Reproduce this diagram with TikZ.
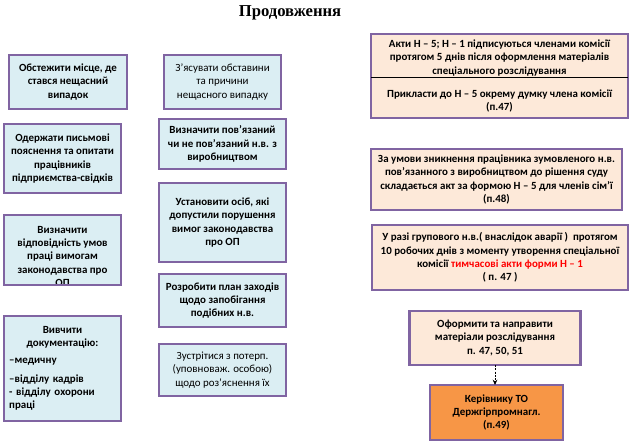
\documentclass[tikz,border=0pt]{standalone}
\usepackage{fontspec}
\setmainfont{Carlito}
\newfontfamily\titlefont{Liberation Serif}
\usetikzlibrary{arrows.meta}
\tikzset{every picture/.style={line width=0.75pt}}

\begin{document}
\begin{tikzpicture}[x=0.75pt,y=0.75pt,yscale=-1,xscale=1,
  txt/.style={inner sep=0pt,align=center,font=\fontsize{8.2}{9.9}\selectfont\bfseries},
  plain/.style={font=\fontsize{8.2}{9.9}\selectfont},
  box/.style={txt,draw={rgb, 255:red, 128; green, 100; blue, 162},line width=2pt,outer sep=0pt},
  bluebox/.style={box,fill={rgb, 255:red, 219; green, 238; blue, 243}},
  peachbox/.style={box,fill={rgb, 255:red, 253; green, 233; blue, 217}},
  orangebox/.style={box,fill={rgb, 255:red, 247; green, 150; blue, 70}}
]
\useasboundingbox (0,0) rectangle (631,443);

% Text Node
\draw (290,13) node (title) [inner sep=0pt,font={\titlefont\fontsize{12.5}{14}\selectfont\bfseries}] {Продовження};

%Shape: Rectangle
\node (obstezhyty) at (68,82) [bluebox,minimum width=88.5pt,minimum height=40.5pt] {Обстежити місце, де\\стався нещасний\\випадок};
%Shape: Rectangle
\node (odergaty) at (62.5,158.5) [bluebox,minimum width=87.75pt,minimum height=51.75pt] {Одержати письмові\\пояснення та опитати\\працівників\\підприємства-свідків};
%Shape: Rectangle
\node (vidpovidnist) at (62.5,250) [bluebox,minimum width=87.75pt,minimum height=52.5pt] {};
\begin{scope}
\clip (vidpovidnist.south west) rectangle (vidpovidnist.north east);
% Text Node
\node (vidpovidnisttext) at (62.5,226) [txt,anchor=north] {Визначити\\відповідність умов\\праці вимогам\\законодавства про\\ОП};
\end{scope}
\draw [draw={rgb, 255:red, 128; green, 100; blue, 162},line width=2pt] (vidpovidnist.south west) rectangle (vidpovidnist.north east);
%Shape: Rectangle
\node (vyvchyty) at (62.5,368.5) [bluebox,minimum width=87.75pt,minimum height=78.75pt,text width=80pt,align=left] {\centering Вивчити\\документацію:\par\vspace{3pt}\raggedright –медичну\\[4pt]–відділу кадрів\\- відділу охорони\\праці\par};

%Shape: Rectangle
\node (zyasuvaty) at (222.5,82) [bluebox,plain,minimum width=87.75pt,minimum height=40.5pt] {З’ясувати обставини\\та причини\\нещасного випадку};
%Shape: Rectangle
\node (povyazanyi) at (222.5,144) [bluebox,minimum width=95.25pt,minimum height=37.5pt] {Визначити пов’язаний\\чи не пов’язаний н.в. з\\виробництвом};
%Shape: Rectangle
\node (osoby) at (222.5,222.5) [bluebox,minimum width=95.25pt,minimum height=59.25pt] {Установити осіб, які\\допустили порушення\\вимог законодавства\\про ОП};
%Shape: Rectangle
\node (plan) at (222.5,300.5) [bluebox,minimum width=95.25pt,minimum height=39.75pt] {Розробити план заходів\\щодо запобігання\\подібних н.в.};
%Shape: Rectangle
\node (zustritysia) at (222.5,370) [bluebox,plain,minimum width=95.25pt,minimum height=39pt] {Зустрітися з потерп.\\(уповноваж. особою)\\щодо роз’яснення їх};

%Shape: Rectangle
\node (akty) at (499.5,76) [peachbox,minimum width=192.75pt,minimum height=63pt] {};
\coordinate (split) at (0,77);
%Straight Lines
\draw [black,line width=0.5pt] (akty.west |- split) -- (akty.east |- split);
% Text Node
\node (aktytext) at (499.5,58) [txt] {Акти Н – 5; Н – 1 підписуються членами комісії\\протягом 5 днів після оформлення матеріалів\\спеціального розслідування};
% Text Node
\node (dumka) at (499.5,101) [txt] {Прикласти до Н – 5 окрему думку члена комісії\\(п.47)};
%Shape: Rectangle
\node (znyknennia) at (496.5,179.5) [peachbox,minimum width=188.25pt,minimum height=45.75pt] {За умови зникнення працівника зумовленого н.в.\\пов’язанного з виробництвом до рішення суду\\складається акт за формою Н – 5 для членів сім’ї\\(п.48)};
%Shape: Rectangle
\node (grupovyi) at (500,257.5) [peachbox,minimum width=192pt,minimum height=48.75pt] {У разі групового н.в.( внаслідок аварії )\ \ протягом\\10 робочих днів з моменту утворення спеціальної\\комісії {\color{red}тимчасові акти форми Н – 1}\\( п. 47 )};
%Shape: Rectangle
\node (oformyty) at (495,338) [peachbox,minimum width=128.25pt,minimum height=40.5pt] {Оформити та направити\\матеріали розслідування\\п. 47, 50, 51};
%Shape: Rectangle
\node (kerivnyku) at (496.5,412.5) [orangebox,minimum width=99.75pt,minimum height=41.25pt] {Керівнику ТО\\Держгірпромнагл.\\(п.49)};

%Straight Lines
\draw [dash pattern={on 1.5pt off 1pt},-{Stealth[length=4pt,width=3.5pt]}] (oformyty.south) -- (oformyty.south |- kerivnyku.north);

\end{tikzpicture}
\end{document}
